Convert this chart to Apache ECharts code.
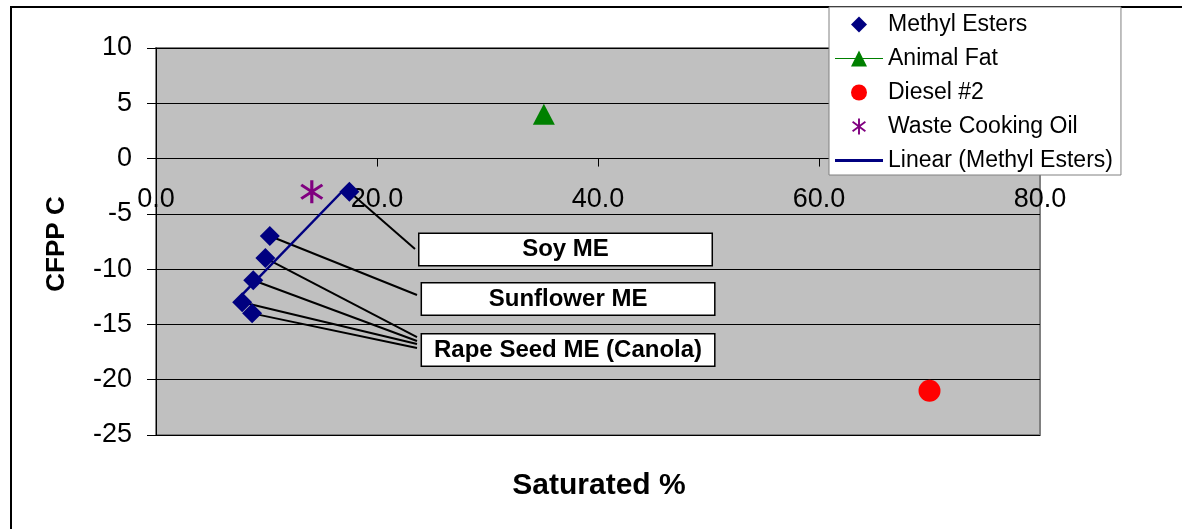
<!DOCTYPE html>
<html>
<head>
<meta charset="utf-8">
<script src="https://cdn.jsdelivr.net/npm/echarts@6/dist/echarts.min.js"></script>
<style>
  html, body { margin: 0; padding: 0; background: #fff; }
  #chart { width: 1182px; height: 529px; }
</style>
</head>
<body>
<div id="chart"></div>
<script>
// ---- data ----
const methylX = [17.5, 10.3, 9.9, 8.8, 7.8, 8.7];
const methylY = [-3, -7, -9, -11, -13, -14];
const animalFatX = [35.1];
const animalFatY = [4];
const dieselX = [70.0];
const dieselY = [-21];
const wasteX = [14.1];
const wasteY = [-3];
const trendX = [7.8, 17.5];
const trendY = [-12.3, -2.3];
const seriesNames = ['Methyl Esters', 'Animal Fat', 'Diesel #2', 'Waste Cooking Oil', 'Linear (Methyl Esters)'];
const labelNames = ['Soy ME', 'Sunflower ME', 'Rape Seed ME (Canola)'];
const labelOfPoint = [0, 1, 2, 2, 2, 2];
const xTitle = 'Saturated %';
const yTitle = 'CFPP C';

// ---- annotation layout (data coordinates) ----
const boxAnchorX = [37.06, 37.29, 37.29];
const boxAnchorY = [-8.22, -12.70, -17.31];
const leaderEndX = [23.44, 23.62, 23.62, 23.62, 23.62, 23.62];
const leaderEndY = [-8.18, -12.34, -16.14, -16.50, -16.77, -17.13];

const FONT = 'Liberation Sans, Arial, sans-serif';
const zip = (a, b) => a.map((v, i) => [v, b[i]]);

const GRID = { left: 156, top: 48, width: 884, height: 387 };
const Y_MIN = -25, Y_MAX = 10;
// pixel distance from grid bottom to y = 0, so the x axis sits on zero
const xAxisOffset = -GRID.height * (0 - Y_MIN) / (Y_MAX - Y_MIN);

const asteriskPath = 'path://M8.8,0 L11.2,0 L11.2,20 L8.8,20 Z M2.7,3.0 L18.7,15.0 L17.3,17.0 L1.3,5.0 Z M1.3,15.0 L17.3,3.0 L18.7,5.0 L2.7,17.0 Z';
const animalLegendPath = 'path://M0,7.4 L48,7.4 L48,8.6 L0,8.6 Z M16,16 L24,0 L32,16 Z';
const diamondLegendPath = 'path://M8,0 L16,8 L8,16 L0,8 Z';
const lineLegendPath = 'path://M0,0 L48,0 L48,3 L0,3 Z';

const chart = echarts.init(document.getElementById('chart'), null, { renderer: 'canvas' });

const option = {
  animation: false,
  backgroundColor: '#ffffff',
  textStyle: { fontFamily: FONT },
  grid: {
    left: GRID.left, top: GRID.top, width: GRID.width, height: GRID.height,
    show: true, backgroundColor: '#C0C0C0',
    borderColor: '#808080', borderWidth: 2
  },
  xAxis: {
    type: 'value', min: 0, max: 80, interval: 20,
    position: 'bottom', offset: xAxisOffset,
    axisLine: { show: true, onZero: false, lineStyle: { color: '#000', width: 1 } },
    axisTick: { show: true, length: 8, lineStyle: { color: '#000' } },
    splitLine: { show: false },
    axisLabel: {
      color: '#000', fontSize: 27, fontFamily: FONT, margin: 27,
      formatter: v => v.toFixed(1)
    }
  },
  yAxis: {
    type: 'value', min: Y_MIN, max: Y_MAX, interval: 5,
    axisLine: { show: true, onZero: false, lineStyle: { color: '#000', width: 1 } },
    axisTick: { show: true, length: 9, lineStyle: { color: '#000' } },
    splitLine: { show: true, lineStyle: { color: '#000', width: 1 } },
    axisLabel: { color: '#000', fontSize: 27, fontFamily: FONT, margin: 24 }
  },
  legend: {
    orient: 'vertical',
    left: 829, top: 7,
    padding: [3, 8, 0, 6],
    backgroundColor: '#ffffff',
    borderColor: '#808080', borderWidth: 1,
    itemWidth: 48, itemHeight: 16, itemGap: 5,
    selectedMode: false,
    textStyle: { color: '#000', fontSize: 23, fontFamily: FONT, lineHeight: 29 },
    data: [
      { name: seriesNames[0], icon: diamondLegendPath },
      { name: seriesNames[1], icon: animalLegendPath },
      { name: seriesNames[2], icon: 'circle' },
      { name: seriesNames[3] },
      { name: seriesNames[4], icon: lineLegendPath }
    ]
  },
  graphic: [
    {
      type: 'rect', z: -10, silent: true,
      shape: { x: 11, y: 7, width: 1300, height: 700 },
      style: { fill: 'none', stroke: '#000', lineWidth: 2 }
    },
    {
      type: 'text', silent: true, x: 599, y: 486,
      style: { text: xTitle, font: 'bold 30px ' + FONT, fill: '#000', align: 'center', verticalAlign: 'middle' }
    },
    {
      type: 'text', silent: true, x: 57, y: 244, rotation: Math.PI / 2,
      style: { text: yTitle, font: 'bold 26px ' + FONT, fill: '#000', align: 'center', verticalAlign: 'middle' }
    }
  ],
  series: [
    {
      name: 'leaders', type: 'lines', coordinateSystem: 'cartesian2d', z: 3, silent: true,
      lineStyle: { color: '#000', width: 2, opacity: 1, curveness: 0 },
      data: methylX.map((x, i) => ({ coords: [[x, methylY[i]], [leaderEndX[i], leaderEndY[i]]] }))
    },
    {
      name: 'labelBoxes', type: 'scatter', z: 4, silent: true,
      symbol: 'circle', symbolSize: 1,
      itemStyle: { color: 'rgba(0,0,0,0)', opacity: 1 },
      label: {
        show: true, position: 'inside', formatter: p => p.name, opacity: 1,
        color: '#000', fontSize: 24, fontWeight: 'bold', fontFamily: FONT,
        width: 292, height: 31, lineHeight: 31, align: 'center', verticalAlign: 'middle',
        backgroundColor: '#ffffff', borderColor: '#000', borderWidth: 1.5, padding: 0
      },
      data: labelNames.map((n, i) => ({ name: n, value: [boxAnchorX[i], boxAnchorY[i]] }))
    },
    {
      name: seriesNames[4], type: 'line', z: 5,
      symbol: 'none', showSymbol: false,
      itemStyle: { color: '#000080' },
      lineStyle: { color: '#000080', width: 2.5 },
      data: zip(trendX, trendY)
    },
    {
      name: seriesNames[0], type: 'scatter', z: 6,
      symbol: 'diamond', symbolSize: 20,
      itemStyle: { color: '#000080', opacity: 1 },
      data: zip(methylX, methylY)
    },
    {
      name: seriesNames[1], type: 'scatter', z: 6,
      symbol: 'triangle', symbolSize: [22, 21],
      itemStyle: { color: '#008000', opacity: 1 },
      data: zip(animalFatX, animalFatY)
    },
    {
      name: seriesNames[2], type: 'scatter', z: 6,
      symbol: 'circle', symbolSize: 22,
      itemStyle: { color: '#FF0000', opacity: 1 },
      data: zip(dieselX, dieselY)
    },
    {
      name: seriesNames[3], type: 'scatter', z: 6,
      symbol: asteriskPath, symbolSize: [23, 23],
      itemStyle: { color: '#800080', opacity: 1 },
      data: zip(wasteX, wasteY)
    }
  ]
};
chart.setOption(option);
</script>
</body>
</html>
